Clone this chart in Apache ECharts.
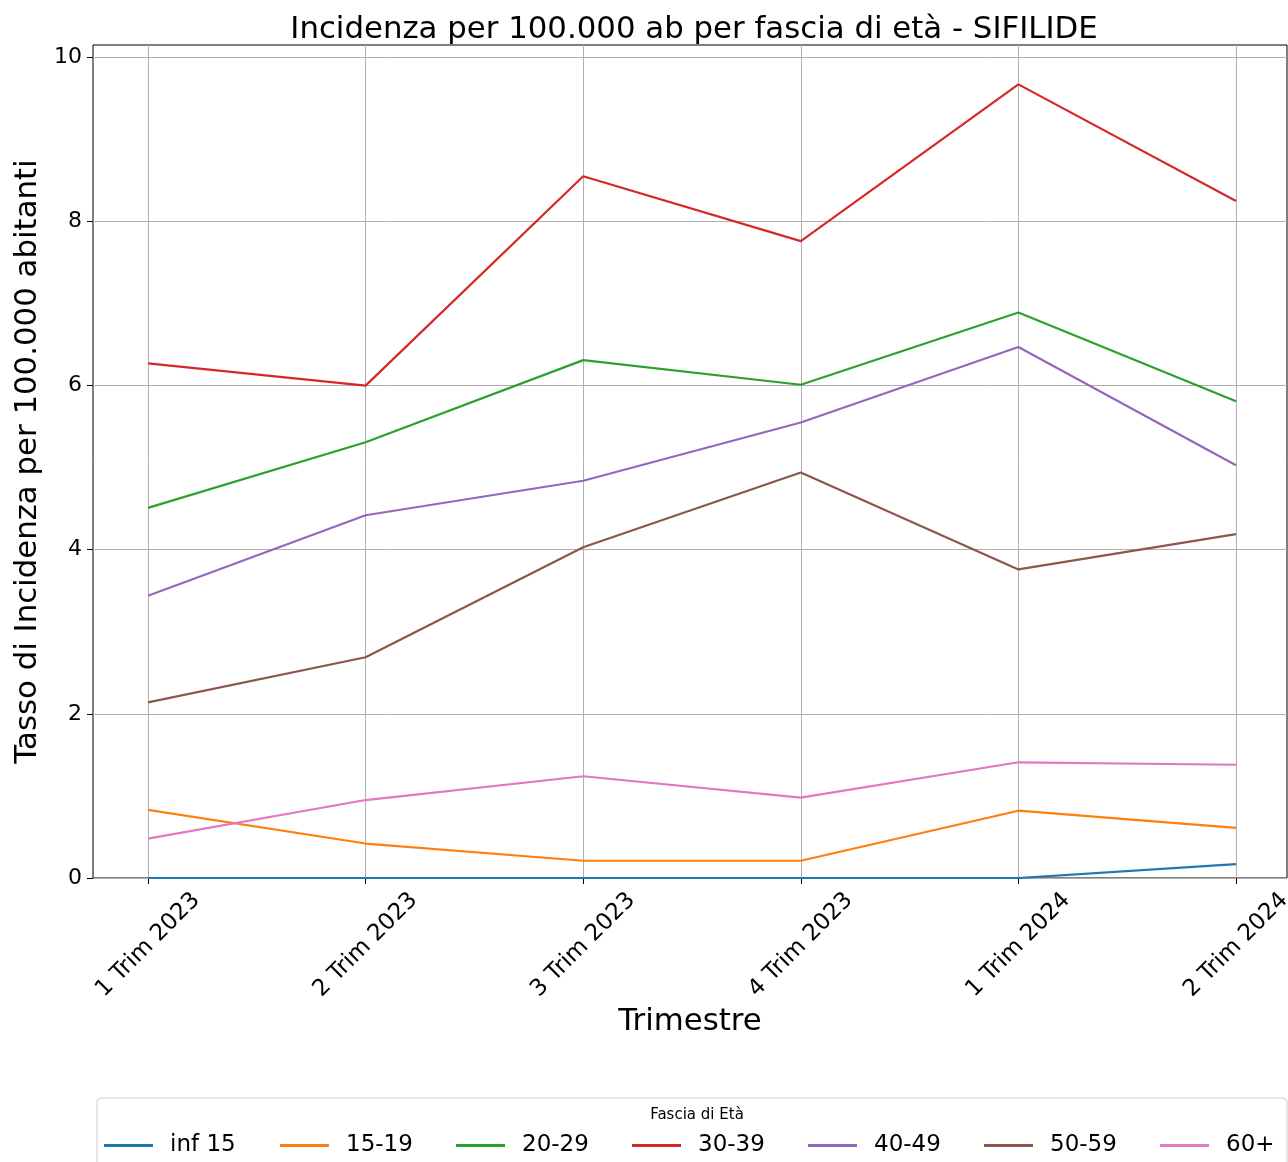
<!DOCTYPE html>
<html>
<head>
<meta charset="utf-8">
<script src="https://cdn.jsdelivr.net/npm/echarts@6/dist/echarts.min.js"></script>
<style>
  html, body { margin: 0; padding: 0; background: #fff; }
  #chart { width: 1288px; height: 1162px; }
</style>
</head>
<body>
<div id="chart"></div>
<script>
const quarters = ['1 Trim 2023', '2 Trim 2023', '3 Trim 2023', '4 Trim 2023', '1 Trim 2024', '2 Trim 2024']

// tassi per 100.000 ab
const inf15 = [0, 0, 0, 0, 0, 0.17]
const age15_19 = [0.83, 0.42, 0.21, 0.21, 0.82, 0.61]
const age20_29 = [4.51, 5.31, 6.31, 6.01, 6.89, 5.81]
const age30_39 = [6.27, 6.0, 8.55, 7.76, 9.67, 8.25]
const age40_49 = [3.44, 4.42, 4.84, 5.55, 6.47, 5.03]
const age50_59 = [2.14, 2.69, 4.03, 4.94, 3.76, 4.19]
const age60plus = [0.48, 0.95, 1.24, 0.98, 1.41, 1.38]

const groups = [
  { name: 'inf 15', data: inf15, color: '#1f77b4' },
  { name: '15-19', data: age15_19, color: '#ff7f0e' },
  { name: '20-29', data: age20_29, color: '#2ca02c' },
  { name: '30-39', data: age30_39, color: '#d62728' },
  { name: '40-49', data: age40_49, color: '#9467bd' },
  { name: '50-59', data: age50_59, color: '#8c564b' },
  { name: '60+', data: age60plus, color: '#e377c2' }
]

const font = 'DejaVu Sans'
const yMax = 10.15 // matplotlib upper margin
const yTickMax = 10
const gridColor = '#b0b0b0'

// plot box in pixels
const plotTop = 45
const plotBottom = 878
const bottomGap = 1162 - plotBottom
// top of the tick grid so that its 10 sits where 10 is on the data scale
const tickTop = plotBottom - (plotBottom - plotTop) * yTickMax / yMax

const chart = echarts.init(document.getElementById('chart'), null, { renderer: 'canvas' })

chart.setOption({
  animation: false,
  textStyle: { fontFamily: font, color: '#000' },
  title: [{
    text: 'Incidenza per 100.000 ab per fascia di età - SIFILIDE',
    left: 689,
    top: 9,
    textAlign: 'center',
    textStyle: { fontFamily: font, fontSize: 30.8, fontWeight: 'normal', color: '#000' }
  }, {
    text: 'Fascia di Età',
    left: 692,
    top: 1103,
    textAlign: 'center',
    textStyle: { fontFamily: font, fontSize: 15, fontWeight: 'normal', color: '#000' }
  }],
  legend: {
    left: 97,
    top: 1098,
    width: 1183,
    orient: 'horizontal',
    padding: [34, 11, 30, 7],
    borderColor: '#d0d0d0',
    borderWidth: 1,
    borderRadius: 4,
    icon: 'rect',
    itemWidth: 49,
    itemHeight: 3,
    itemGap: 10,
    textStyle: {
      fontFamily: font,
      fontSize: 23,
      color: '#000',
      width: 100,
      lineHeight: 27,
      padding: [0, 0, 0, 12]
    },
    data: groups.map((g, i) => (
      i === groups.length - 1
        ? { name: g.name, textStyle: { width: 50 } }
        : { name: g.name }
    ))
  },
  grid: [
    // frame: spines
    { left: 93, right: 1, top: plotTop, bottom: bottomGap, show: true, borderColor: '#000', borderWidth: 1, backgroundColor: 'transparent', outerBoundsMode: 'none' },
    // data: category positions with the side margins
    { left: 148, right: 52, top: plotTop, bottom: bottomGap, outerBoundsMode: 'none' },
    // y ticks and horizontal grid lines, 0..10
    { left: 93, right: 1, top: tickTop, bottom: bottomGap, outerBoundsMode: 'none' }
  ],
  xAxis: [{
    gridIndex: 0,
    type: 'value',
    min: 0,
    max: 1,
    name: 'Trimestre',
    nameLocation: 'middle',
    nameGap: 128,
    nameTextStyle: { fontFamily: font, fontSize: 30.8, color: '#000' },
    axisLine: { show: false },
    axisTick: { show: false },
    axisLabel: { show: false },
    splitLine: { show: false }
  }, {
    gridIndex: 1,
    type: 'category',
    boundaryGap: false,
    data: quarters,
    axisLine: { show: false },
    axisTick: { show: true, length: 6, lineStyle: { color: '#000', width: 1 } },
    axisLabel: {
      rotate: 45,
      align: 'center',
      verticalAlign: 'middle',
      margin: 67,
      fontFamily: font,
      fontSize: 23,
      color: '#000'
    },
    splitLine: { show: true, lineStyle: { color: gridColor, width: 1 } }
  }, {
    gridIndex: 2,
    type: 'value',
    min: 0,
    max: 1,
    show: false
  }],
  yAxis: [{
    gridIndex: 0,
    type: 'value',
    min: 0,
    max: yMax,
    name: 'Tasso di Incidenza per 100.000 abitanti',
    nameLocation: 'middle',
    nameGap: 50,
    nameTextStyle: { fontFamily: font, fontSize: 30.8, color: '#000' },
    axisLine: { show: false },
    axisTick: { show: false },
    axisLabel: { show: false },
    splitLine: { show: false }
  }, {
    gridIndex: 1,
    type: 'value',
    min: 0,
    max: yMax,
    show: false,
    splitLine: { show: false }
  }, {
    gridIndex: 2,
    type: 'value',
    min: 0,
    max: yTickMax,
    interval: 2,
    axisLine: { show: false },
    axisTick: { show: true, length: 6, lineStyle: { color: '#000', width: 1 } },
    axisLabel: { margin: 11, fontFamily: font, fontSize: 22, color: '#000' },
    splitLine: { show: true, lineStyle: { color: gridColor, width: 1 } }
  }],
  series: groups.map(g => ({
    name: g.name,
    type: 'line',
    xAxisIndex: 1,
    yAxisIndex: 1,
    data: g.data,
    symbol: 'none',
    color: g.color,
    lineStyle: { color: g.color, width: 2.2 },
    z: 3
  }))
})
</script>
</body>
</html>
